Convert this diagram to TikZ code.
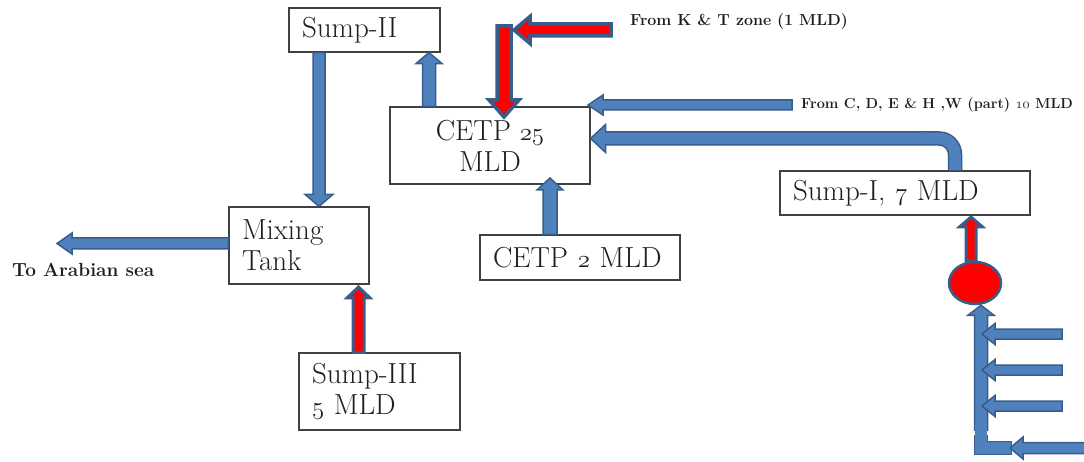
\documentclass[tikz,border=0pt]{standalone}
\usepackage{fontspec}
\usetikzlibrary{calc,shapes.geometric}
\definecolor{bfill}{RGB}{79,129,189}
\definecolor{bline}{RGB}{56,93,138}
\definecolor{boxline}{RGB}{64,64,64}
\definecolor{txt}{RGB}{30,30,30}
\newcommand\osn[1]{{\fontencoding{OML}\fontfamily{lmm}\fontshape{it}\selectfont #1}}
\newcommand\osnb[1]{{\fontencoding{OML}\fontfamily{lmm}\fontseries{b}\fontshape{it}\selectfont #1}}
% block arrow: [fill]{start}{end}{half shaft}{half head}{head length}{outline width}
\newcommand\BArrow[7][bfill]{%
  \coordinate (bah) at ($(#3)!#6!(#2)$);
  \filldraw[draw=bline, fill=#1, line width=#7, line join=miter]
    ($(#2)!#4!90:(#3)$) -- ($(bah)!#4!90:(#3)$) -- ($(bah)!#5!90:(#3)$) -- (#3)
    -- ($(bah)!#5!-90:(#3)$) -- ($(bah)!#4!-90:(#3)$) -- ($(#2)!#4!-90:(#3)$) -- cycle;
}
\tikzset{
  box/.style={draw=boxline, line width=1.2pt, rectangle, inner xsep=13pt, inner ysep=0pt,
    font=\fontsize{29}{31}\selectfont, text=txt},
  lbox/.style={box, align=left},
  lab/.style={inner sep=0pt, text=txt, anchor=west},
}
\begin{document}
\begin{tikzpicture}[x=1pt,y=-1pt]
\useasboundingbox (0,0) rectangle (1084,462);

% boxes
\node[lbox, text width=125pt, minimum height=44pt] (sump2) at (364.5,30) {Sump-II};
\node[box, align=center, minimum width=200pt, minimum height=77pt] (cetp) at (490,145.5) {CETP \osn{25}\\MLD};
\node[lbox, text width=114pt, minimum height=77pt] (mix) at (299,245.5) {Mixing\\Tank};
\node[lbox, text width=174pt, minimum height=45pt] (cetp2) at (580,257.5) {CETP \osn{2} MLD};
\node[lbox, text width=135pt, minimum height=77pt] (sump3) at (379.5,391.5) {Sump-III\\\osn{5} MLD};
\node[lbox, text width=224pt, minimum height=44pt] (sump1) at (905,193) {Sump-I, \osn{7} MLD};
\node[ellipse, minimum width=52pt, minimum height=42pt, inner sep=0pt, fill=red, draw=bline, line width=2.5pt] (pump) at (975,283) {};

% labels
\node[lab, font=\bfseries\fontsize{16}{18}\selectfont] (ktl) at (630,22) {From K \& T zone (1 MLD)};
\node[lab, font=\bfseries\fontsize{14.5}{16}\selectfont] (cdel) at (801,105) {From C, D, E \& H ,W (part) \osnb{10} MLD};
\node[lab, font=\bfseries\fontsize{19}{21}\selectfont] (seal) at (12,270) {To Arabian sea};

% helper coordinates
\coordinate (xa) at (319,0);
\coordinate (xb) at (429,0);
\coordinate (xc) at (550,0);
\coordinate (xm) at (358.5,0);
\coordinate (xq) at (971,0);
\coordinate (xp) at (955,0);
\coordinate (xv) at (981,0);
\coordinate (xt) at (982,0);
\coordinate (rtop) at (504,26);
\coordinate (rtip) at (504,117);
\coordinate (kt) at (611,30);
\coordinate (ktip) at (514,30);
\coordinate (cde) at (792,105);
\coordinate (ctip) at (588,105);
\coordinate (c2tip) at (550,178);
\coordinate (sea) at (57,243.5);
\coordinate (mixy) at (0,243.5);
\coordinate (m3tip) at (358.5,287);
\coordinate (s1tip) at (971,217);
\coordinate (pj) at (926,138.5);
\coordinate (pj0) at (925,138.5);
\coordinate (pj1) at (919,138.5);
\coordinate (lb) at (1012,448);
\coordinate (lb1) at (1011,448);
\coordinate (lv) at (981,435);
\coordinate (lv0) at (981,430);
\coordinate (lv1) at (981,424);
\coordinate (bin) at (1092,448);
\coordinate (btip) at (1010,448);
\coordinate (s1) at (1062,334);
\coordinate (s2) at (1062,370);
\coordinate (s3) at (1062,406);

% Sump-II -> Mixing Tank
\BArrow{sump2.south -| xa}{mix.north -| xa}{6pt}{14pt}{12pt}{1.5pt}
% CETP 25 -> Sump-II
\BArrow{cetp.north -| xb}{sump2.south -| xb}{6.5pt}{13pt}{11pt}{1.5pt}
% From K & T zone (red)
\BArrow[red]{rtop}{rtip}{7pt}{15pt}{17pt}{3.5pt}
\BArrow[red]{kt}{ktip}{6pt}{13.5pt}{16pt}{3.5pt}
% From C, D, E ...
\BArrow{cde}{ctip}{5pt}{10pt}{15pt}{1.5pt}
% Sump-I -> CETP 25 (rounded pipe)
\draw[draw=bline, line width=14.5pt, rounded corners=16pt] (sump1.north -| xp) |- (pj);
\BArrow{pj0}{cetp.east |- pj}{6.5pt}{14pt}{15pt}{1.5pt}
\draw[draw=bfill, line width=11.5pt, rounded corners=16pt] (sump1.north -| xp) |- (pj1);
% CETP 2 -> CETP 25
\BArrow{cetp2.north -| xc}{c2tip}{7pt}{13pt}{12pt}{1.5pt}
% Mixing Tank -> sea
\BArrow{mix.west |- mixy}{sea}{5.5pt}{10.5pt}{15pt}{1.5pt}
% Sump-III -> Mixing Tank (red)
\BArrow[red]{sump3.north -| xm}{m3tip}{5.5pt}{11.5pt}{11pt}{3pt}
% pump -> Sump-I (red)
\BArrow[red]{pump.north -| xq}{s1tip}{5pt}{11.5pt}{10pt}{3pt}
% collecting pipe -> pump
\draw[draw=bline, line width=14.5pt] (lb) -| (lv);
\BArrow{lv0}{pump.south -| xv}{6.5pt}{13pt}{10pt}{1.5pt}
\draw[draw=bfill, line width=11.5pt] (lb1) -| (lv1);
% side inflows
\BArrow{s1}{s1 -| xt}{5pt}{10.5pt}{13pt}{1.5pt}
\BArrow{s2}{s2 -| xt}{5pt}{10.5pt}{13pt}{1.5pt}
\BArrow{s3}{s3 -| xt}{5pt}{10.5pt}{13pt}{1.5pt}
\BArrow{bin}{btip}{5.5pt}{11pt}{13pt}{1.5pt}
\end{tikzpicture}
\end{document}
